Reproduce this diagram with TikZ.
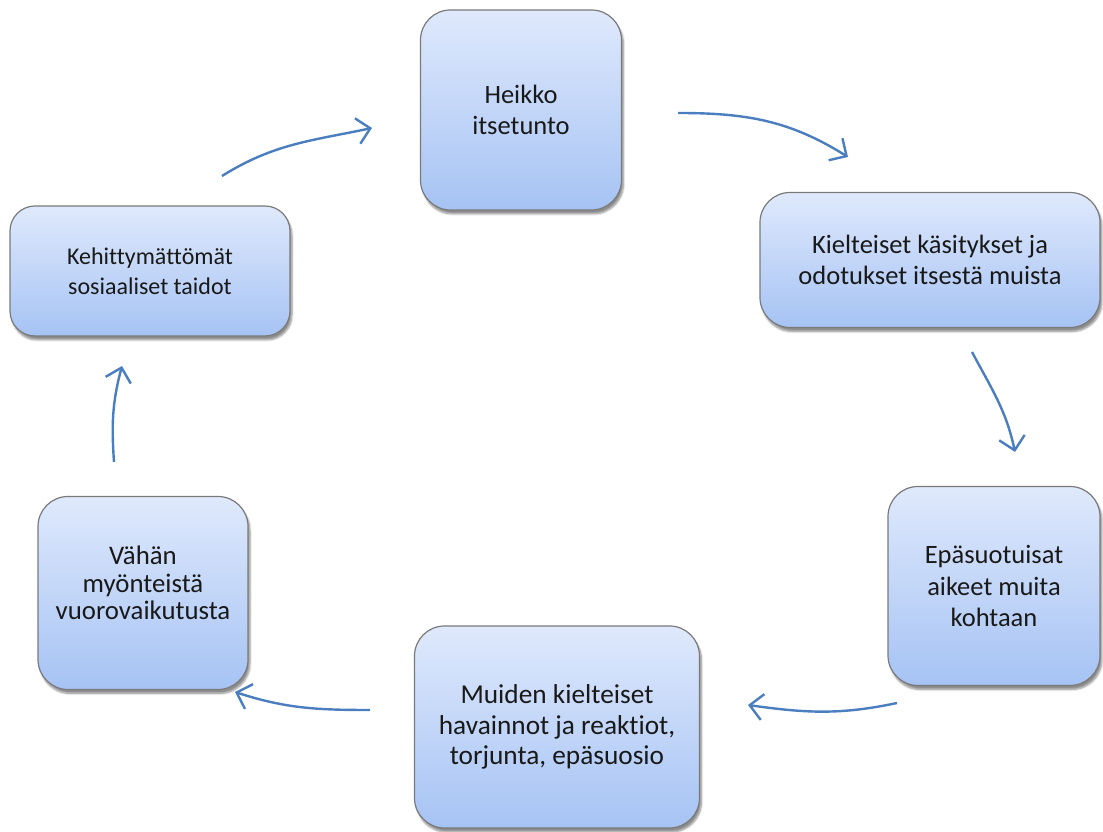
\documentclass[tikz,border=0pt]{standalone}
\usepackage{fontspec}
\setmainfont{Carlito}[Ligatures=NoCommon]
\usetikzlibrary{arrows.meta,shadows.blur}
\definecolor{boxtop}{HTML}{DFE9FC}
\definecolor{boxbot}{HTML}{A6C3F4}
\definecolor{boxline}{HTML}{7A7A7A}
\definecolor{arrowc}{HTML}{4A7EBF}
\tikzset{
  cyclebox/.style={draw=boxline, line width=1.2pt, rounded corners=30pt,
    top color=boxtop, bottom color=boxbot, align=center,
    font=\fontsize{26.5}{31.5}\selectfont, text=black!90,
    blur shadow={shadow xshift=2pt, shadow yshift=-4pt, shadow blur steps=6, shadow opacity=45},
    inner sep=0pt},
  cyclearrow/.style={draw=arrowc, line width=2.4pt,
    -{Straight Barb[length=13pt,width=26pt,line width=2.4pt]}}
}
\begin{document}
\begin{tikzpicture}[x=1pt,y=1pt]
\useasboundingbox (0,0) rectangle (1103,832);
\node[cyclebox, minimum width=201pt, minimum height=200pt] (b1) at (521,722) {Heikko\\itsetunto};
\node[cyclebox, minimum width=340pt, minimum height=135pt] (b2) at (930,572) {Kielteiset käsitykset ja\\odotukset itsestä muista};
\node[cyclebox, minimum width=212pt, minimum height=199pt] (b3) at (994,246) {Epäsuotuisat\\aikeet muita\\kohtaan};
\node[cyclebox, minimum width=285pt, minimum height=202pt, font=\fontsize{27.3}{30.5}\selectfont] (b4) at (557,105) {Muiden kielteiset\\havainnot ja reaktiot,\\torjunta, epäsuosio};
\node[cyclebox, minimum width=210pt, minimum height=193pt, font=\fontsize{26.8}{27.5}\selectfont,
  text depth=20pt] (b5) at (143,239) {Vähän\\myönteistä\\vuorovaikutusta};
\node[cyclebox, minimum width=280pt, minimum height=130pt, rounded corners=25pt,
  font=\fontsize{24}{30}\selectfont] (b6) at (150,561) {Kehittymättömät\\sosiaaliset taidot};
% arrow end points
\coordinate (a1s) at (222,656); \coordinate (a1e) at (372,704);
\coordinate (a2s) at (678,719); \coordinate (a2e) at (848,675);
\coordinate (a3s) at (972,480); \coordinate (a3e) at (1015,380);
\coordinate (a4s) at (897,129); \coordinate (a4e) at (748,127);
\coordinate (a5s) at (370,122); \coordinate (a5e) at (235,140);
\coordinate (a6s) at (114,370); \coordinate (a6e) at (122,466);
\draw[cyclearrow] (a1s) to[out=32,in=192] (a1e);
\draw[cyclearrow] (a2s) to[out=0,in=148] (a2e);
\draw[cyclearrow] (a3s) to[out=-62,in=102] (a3e);
\draw[cyclearrow] (a4s) to[out=192,in=-8] (a4e);
\draw[cyclearrow] (a5s) to[out=180,in=-18] (a5e);
\draw[cyclearrow] (a6s) to[out=94,in=255] (a6e);
\end{tikzpicture}
\end{document}
